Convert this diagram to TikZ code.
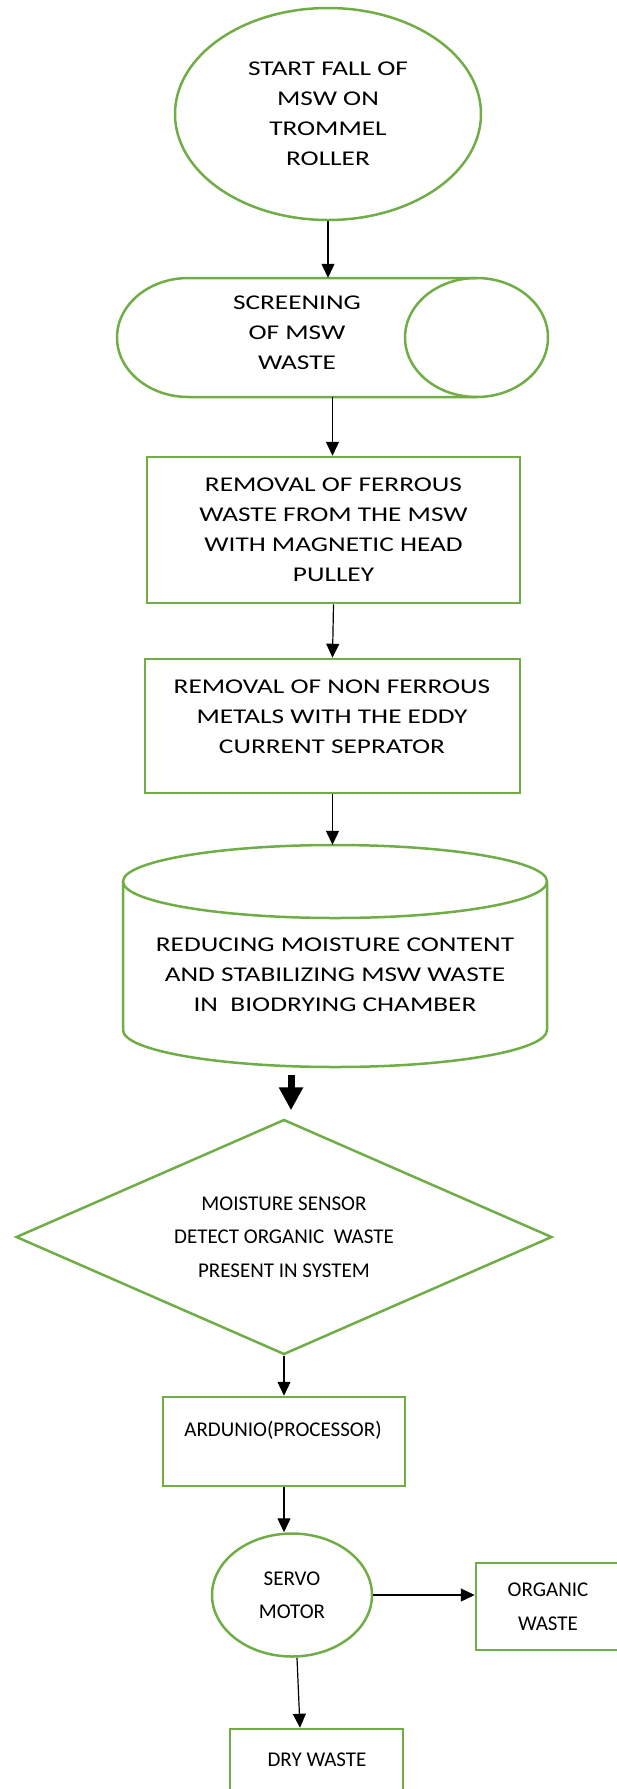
\documentclass[tikz,border=0pt]{standalone}
\usepackage{fontspec}
\setmainfont{Carlito}
\newfontfamily\widefont[FakeStretch=1.3]{Carlito}
\usetikzlibrary{arrows.meta,shapes.geometric}
\definecolor{leaf}{RGB}{112,173,71}

\begin{document}
\begin{tikzpicture}[x=1pt,y=-1pt,>={Triangle[width=13pt,length=14pt]},
  outl/.style={draw=leaf,line width=2.5pt},
  wtxt/.style={align=center,font=\widefont\fontsize{21}{30}\selectfont},
  ntxt/.style={align=center,font=\fontsize{21}{33.5}\selectfont},
  box/.style={outl,rectangle,inner sep=0pt},
  arr/.style={->,line width=1.2pt}]
\useasboundingbox (0,0) rectangle (616,1789);
\node[outl,ellipse,minimum width=306pt,minimum height=212pt,inner sep=0pt,wtxt] (start) at (328,114) {START FALL OF\\MSW ON\\TROMMEL\\ROLLER};
\node[minimum width=431pt,minimum height=119pt] (screen) at (332.5,337.5) {};
\draw[outl] (476.5,278) -- (188.5,278) arc[start angle=270,end angle=90,x radius=71.5,y radius=59.5] -- (476.5,397);
\draw[outl] (476.5,337.5) ellipse[x radius=71.5,y radius=59.5];
\node[wtxt] (screentxt) at (297,333) {SCREENING\\OF MSW\\WASTE};
\node[box,minimum width=373pt,minimum height=146pt,wtxt] (ferrous) at (333.5,530) {REMOVAL OF FERROUS\\WASTE FROM THE MSW\\WITH MAGNETIC HEAD\\PULLEY};
\node[box,minimum width=375pt,minimum height=134pt] (eddy) at (332.5,726) {};
\node[wtxt] (eddytxt) at (332,717) {REMOVAL OF NON FERROUS\\METALS WITH THE EDDY\\CURRENT SEPRATOR};
\node[minimum width=424pt,minimum height=222pt] (bio) at (335,956) {};
\draw[outl] (123,881.5) -- (123,1030) arc[start angle=180,end angle=0,x radius=212,y radius=37] -- (547,881.5);
\draw[outl] (335,881.5) ellipse[x radius=212,y radius=36.5];
\node[wtxt] (biotxt) at (335,975) {REDUCING MOISTURE CONTENT\\AND STABILIZING MSW WASTE\\IN\ \ BIODRYING CHAMBER};
\node[outl,diamond,aspect=2.28,minimum width=536pt,minimum height=235pt,inner sep=0pt,ntxt] (detect) at (284,1237) {MOISTURE SENSOR\\DETECT ORGANIC\ \ WASTE\\PRESENT IN SYSTEM};
\coordinate (fat) at (291,1075);
\node[box,minimum width=242pt,minimum height=89pt] (ardu) at (284,1441.5) {};
\node[ntxt] (ardutxt) at (283,1430) {ARDUNIO(PROCESSOR)};
\node[outl,ellipse,minimum width=160pt,minimum height=123pt,inner sep=0pt,ntxt] (servo) at (292,1595) {SERVO\\MOTOR};
\node[box,minimum width=144pt,minimum height=87pt,ntxt] (organic) at (548,1606.5) {ORGANIC\\WASTE};
\node[box,minimum width=173pt,minimum height=89pt] (dry) at (316.5,1773.5) {};
\node[ntxt] (drytxt) at (317,1760) {DRY WASTE};
\draw[arr] (start.south) -- (start.south |- screen.north);
\draw[arr] (screen.south) -- (screen.south |- ferrous.north);
\draw[arr] (ferrous.south) -- (eddy.north);
\draw[arr] (eddy.south) -- (eddy.south |- bio.north);
\draw[-{Triangle[width=23pt,length=23pt]},line width=7pt,shorten >=8pt] (fat) -- (fat |- detect.north);
\draw[arr] (detect.south) -- (ardu.north);
\draw[arr] (ardu.south) -- (ardu.south |- servo.north);
\draw[arr] (servo.east) -- (servo.east -| organic.west);
\draw[arr] ([xshift=5pt]servo.south) -- ([xshift=-16.5pt]dry.north);
\end{tikzpicture}
\end{document}
